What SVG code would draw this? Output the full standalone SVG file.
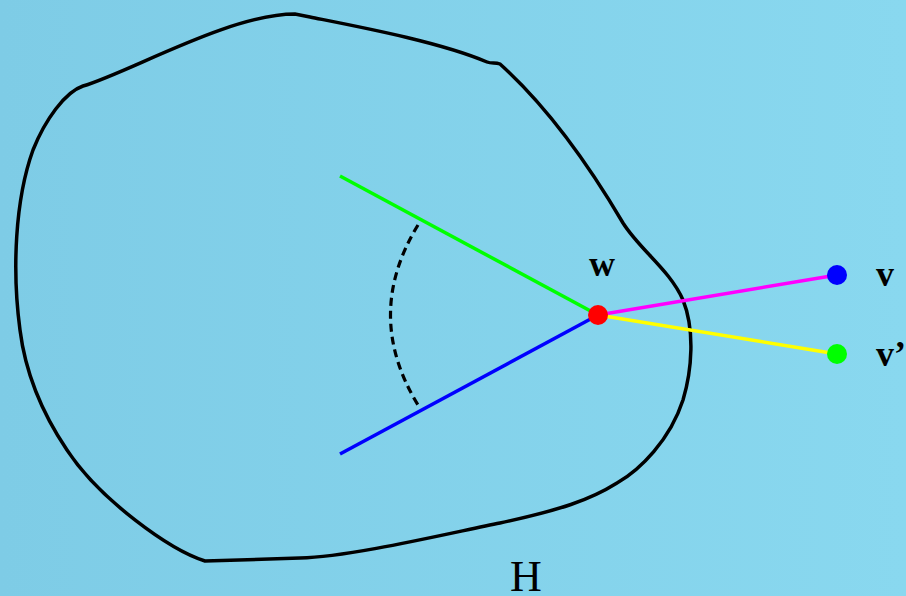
<svg xmlns="http://www.w3.org/2000/svg" width="906" height="596" viewBox="0 0 906 596">
<defs>
<linearGradient id="bg" x1="0" y1="0" x2="1" y2="0">
<stop offset="0" stop-color="#7ecce6"/>
<stop offset="1" stop-color="#89d8ef"/>
</linearGradient>
</defs>
<style>
.edge{stroke-width:3.5;fill:none;stroke-linecap:butt}
.lbl{font-family:"Liberation Serif","Times New Roman",serif;font-weight:bold;font-size:36px;fill:#000}
</style>
<rect x="0" y="0" width="906" height="596" fill="url(#bg)"/>
<g id="H-region">
<path d="M 83 86 C 130 72, 230 14, 295 14 L 310 17 C 360 27, 440 42, 487 62 C 492 64, 495 62, 500 64 C 540 100, 580 150, 623 223 C 640 250, 670 270, 683 300 C 695 330, 692 370, 683 400 C 670 440, 640 470, 617 483 C 590 500, 560 510, 500 523 C 450 533, 350 557, 300 558 L 205 561 C 170 550, 100 500, 67 450 C 40 410, 25 370, 20 330 C 12 270, 15 200, 33 150 C 45 120, 65 92, 83 86 Z" fill="none" stroke="#000" stroke-width="3.5"/>
<text x="526" y="591" font-family="'Liberation Serif','Times New Roman',serif" font-size="44" text-anchor="middle" fill="#000">H</text>
</g>
<g id="connectors">
<line class="edge" x1="340" y1="176" x2="598" y2="315" stroke="#00ff00"/>
<line class="edge" x1="340" y1="454" x2="598" y2="315" stroke="#0000ff"/>
<line class="edge" x1="598" y1="315" x2="837" y2="275" stroke="#ff00ff"/>
<line class="edge" x1="598" y1="315" x2="837" y2="354" stroke="#ffff00"/>
<path d="M 418 225 Q 363 315 418 405" fill="none" stroke="#000" stroke-width="3.2" stroke-dasharray="8 5"/>
</g>
<g id="w">
<circle cx="598" cy="315" r="10" fill="#ff0000"/>
<text class="lbl" x="602" y="276" text-anchor="middle">w</text>
</g>
<g id="v">
<circle cx="837" cy="275" r="10" fill="#0000ff"/>
<text class="lbl" x="876" y="286">v</text>
</g>
<g id="v-prime">
<circle cx="837" cy="354" r="10" fill="#00ff00"/>
<text class="lbl" x="876" y="366">v’</text>
</g>
</svg>
